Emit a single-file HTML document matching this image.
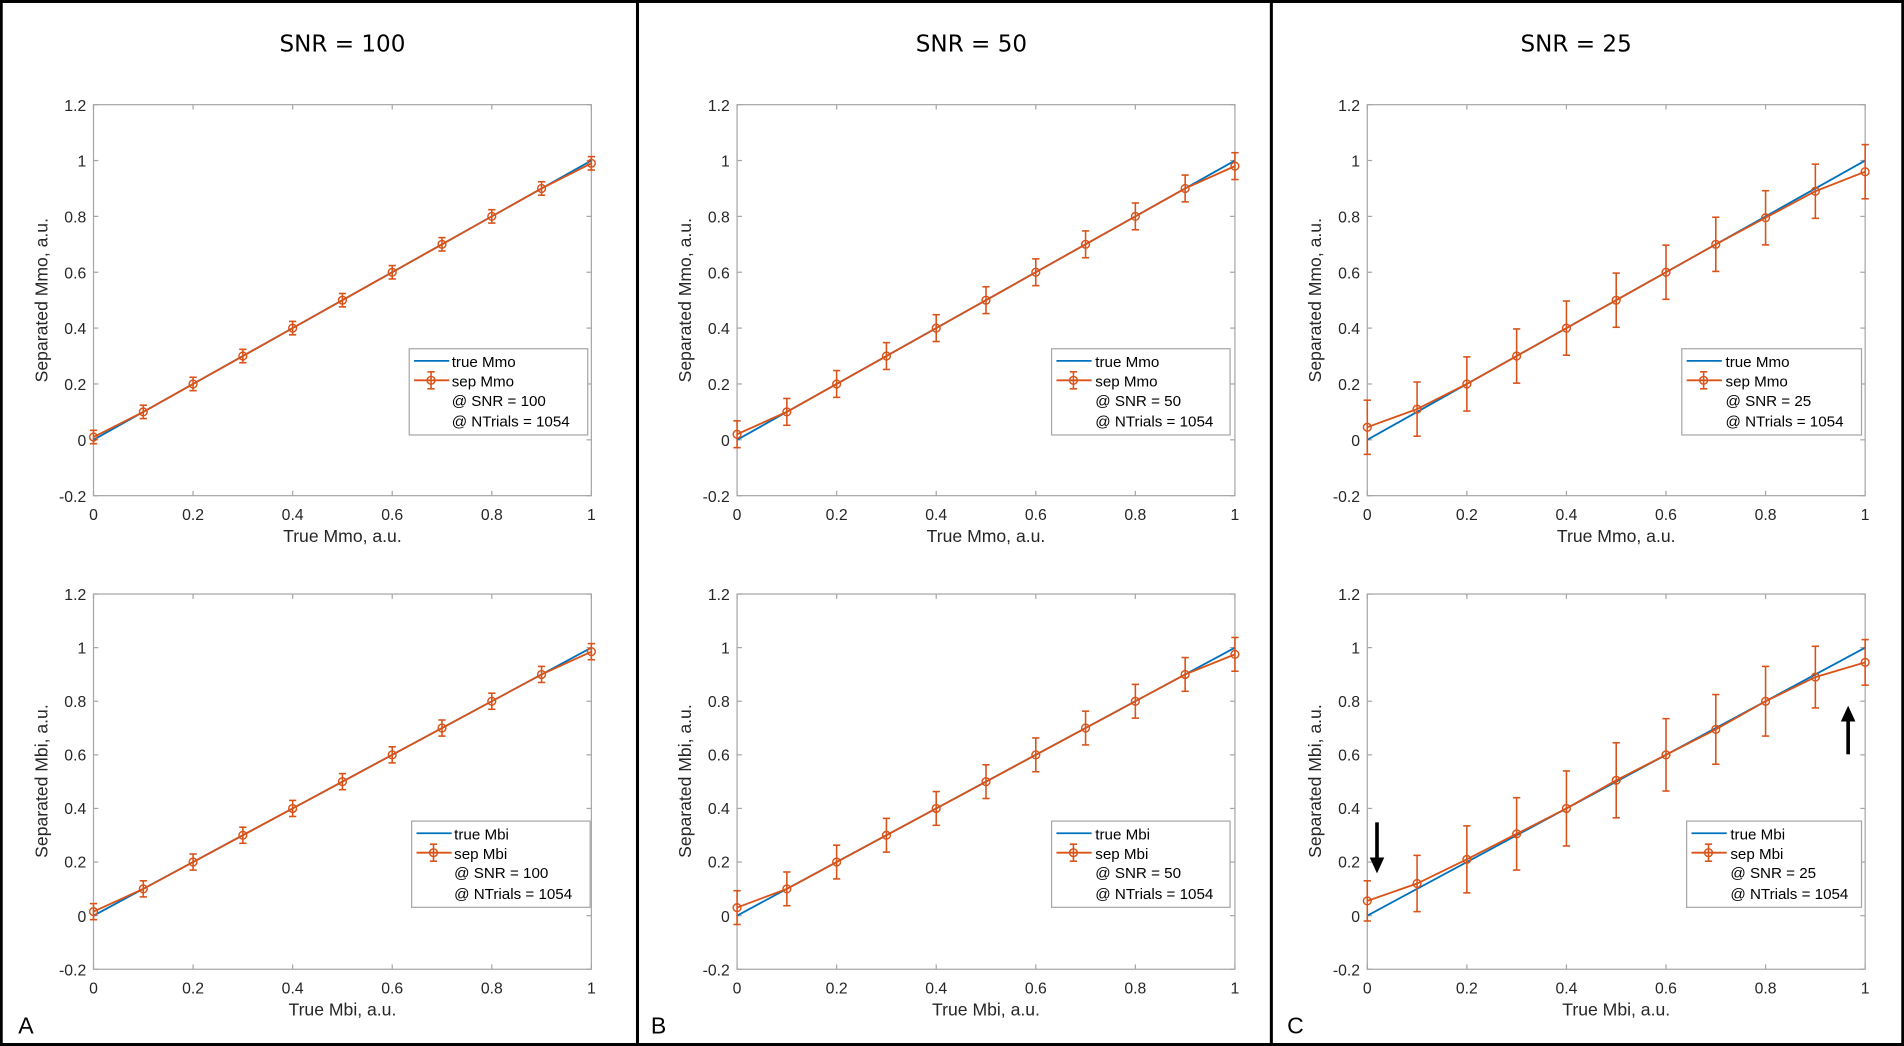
<!DOCTYPE html>
<html><head><meta charset="utf-8">
<style>
html,body{margin:0;padding:0;background:#fff;}
svg{display:block;}
text{font-family:"Liberation Sans",sans-serif;fill:#262626;}
.yl{font-size:13px;text-anchor:end;}
.xl{font-size:13px;text-anchor:middle;}
.lab{font-size:14.5px;text-anchor:middle;}
.title{font-family:"DejaVu Sans","Liberation Sans",sans-serif;font-size:19px;fill:#000;text-anchor:middle;}
.lg{font-size:12.5px;fill:#000;}
.let{font-size:19px;fill:#000;}
</style></head>
<body>
<svg id="s" width="1904" height="1046" viewBox="0 0 1568 861" xmlns="http://www.w3.org/2000/svg">
<rect x="0" y="0" width="1568" height="861" fill="#fff"/>
<g id="g"></g>
<rect x="1" y="1" width="1566" height="859" fill="none" stroke="#000" stroke-width="2.5"/>
<line x1="525" y1="0" x2="525" y2="861" stroke="#000" stroke-width="2.5"/>
<line x1="1047" y1="0" x2="1047" y2="861" stroke="#000" stroke-width="2.5"/>

<text class="title" x="282" y="42">SNR = 100</text>
<text class="title" x="800" y="42">SNR = 50</text>
<text class="title" x="1298" y="42">SNR = 25</text>

<text class="let" x="15" y="851">A</text>
<text class="let" x="536" y="851">B</text>
<text class="let" x="1060" y="851">C</text>

<!-- Panel A -->
<g transform="translate(77,0)">
<text class="yl" x="-6" y="91">1.2</text><text class="yl" x="-6" y="137">1</text><text class="yl" x="-6" y="183">0.8</text><text class="yl" x="-6" y="229">0.6</text><text class="yl" x="-6" y="275">0.4</text><text class="yl" x="-6" y="321">0.2</text><text class="yl" x="-6" y="367">0</text><text class="yl" x="-6" y="413">-0.2</text>
<text class="xl" x="0" y="428">0</text><text class="xl" x="82" y="428">0.2</text><text class="xl" x="164" y="428">0.4</text><text class="xl" x="246" y="428">0.6</text><text class="xl" x="328" y="428">0.8</text><text class="xl" x="410" y="428">1</text>
<text class="lab" x="205" y="446">True Mmo, a.u.</text>
<text class="lab" transform="translate(-38,247) rotate(-90)">Separated Mmo, a.u.</text>
<text class="yl" x="-6" y="494">1.2</text><text class="yl" x="-6" y="538">1</text><text class="yl" x="-6" y="582">0.8</text><text class="yl" x="-6" y="626">0.6</text><text class="yl" x="-6" y="670">0.4</text><text class="yl" x="-6" y="714">0.2</text><text class="yl" x="-6" y="759">0</text><text class="yl" x="-6" y="803">-0.2</text>
<text class="xl" x="0" y="818">0</text><text class="xl" x="82" y="818">0.2</text><text class="xl" x="164" y="818">0.4</text><text class="xl" x="246" y="818">0.6</text><text class="xl" x="328" y="818">0.8</text><text class="xl" x="410" y="818">1</text>
<text class="lab" x="205" y="836">True Mbi, a.u.</text>
<text class="lab" transform="translate(-38,643) rotate(-90)">Separated Mbi, a.u.</text>
</g>
<!-- Panel B -->
<g transform="translate(607,0)">
<text class="yl" x="-6" y="91">1.2</text><text class="yl" x="-6" y="137">1</text><text class="yl" x="-6" y="183">0.8</text><text class="yl" x="-6" y="229">0.6</text><text class="yl" x="-6" y="275">0.4</text><text class="yl" x="-6" y="321">0.2</text><text class="yl" x="-6" y="367">0</text><text class="yl" x="-6" y="413">-0.2</text>
<text class="xl" x="0" y="428">0</text><text class="xl" x="82" y="428">0.2</text><text class="xl" x="164" y="428">0.4</text><text class="xl" x="246" y="428">0.6</text><text class="xl" x="328" y="428">0.8</text><text class="xl" x="410" y="428">1</text>
<text class="lab" x="205" y="446">True Mmo, a.u.</text>
<text class="lab" transform="translate(-38,247) rotate(-90)">Separated Mmo, a.u.</text>
<text class="yl" x="-6" y="494">1.2</text><text class="yl" x="-6" y="538">1</text><text class="yl" x="-6" y="582">0.8</text><text class="yl" x="-6" y="626">0.6</text><text class="yl" x="-6" y="670">0.4</text><text class="yl" x="-6" y="714">0.2</text><text class="yl" x="-6" y="759">0</text><text class="yl" x="-6" y="803">-0.2</text>
<text class="xl" x="0" y="818">0</text><text class="xl" x="82" y="818">0.2</text><text class="xl" x="164" y="818">0.4</text><text class="xl" x="246" y="818">0.6</text><text class="xl" x="328" y="818">0.8</text><text class="xl" x="410" y="818">1</text>
<text class="lab" x="205" y="836">True Mbi, a.u.</text>
<text class="lab" transform="translate(-38,643) rotate(-90)">Separated Mbi, a.u.</text>
</g>
<!-- Panel C -->
<g transform="translate(1126,0)">
<text class="yl" x="-6" y="91">1.2</text><text class="yl" x="-6" y="137">1</text><text class="yl" x="-6" y="183">0.8</text><text class="yl" x="-6" y="229">0.6</text><text class="yl" x="-6" y="275">0.4</text><text class="yl" x="-6" y="321">0.2</text><text class="yl" x="-6" y="367">0</text><text class="yl" x="-6" y="413">-0.2</text>
<text class="xl" x="0" y="428">0</text><text class="xl" x="82" y="428">0.2</text><text class="xl" x="164" y="428">0.4</text><text class="xl" x="246" y="428">0.6</text><text class="xl" x="328" y="428">0.8</text><text class="xl" x="410" y="428">1</text>
<text class="lab" x="205" y="446">True Mmo, a.u.</text>
<text class="lab" transform="translate(-38,247) rotate(-90)">Separated Mmo, a.u.</text>
<text class="yl" x="-6" y="494">1.2</text><text class="yl" x="-6" y="538">1</text><text class="yl" x="-6" y="582">0.8</text><text class="yl" x="-6" y="626">0.6</text><text class="yl" x="-6" y="670">0.4</text><text class="yl" x="-6" y="714">0.2</text><text class="yl" x="-6" y="759">0</text><text class="yl" x="-6" y="803">-0.2</text>
<text class="xl" x="0" y="818">0</text><text class="xl" x="82" y="818">0.2</text><text class="xl" x="164" y="818">0.4</text><text class="xl" x="246" y="818">0.6</text><text class="xl" x="328" y="818">0.8</text><text class="xl" x="410" y="818">1</text>
<text class="lab" x="205" y="836">True Mbi, a.u.</text>
<text class="lab" transform="translate(-38,643) rotate(-90)">Separated Mbi, a.u.</text>
</g>

<g id="legs"></g>
<text class="lg" x="372" y="302">true Mmo</text><text class="lg" x="372" y="318">sep Mmo</text><text class="lg" x="372" y="334">@ SNR = 100</text><text class="lg" x="372" y="351">@ NTrials = 1054</text>
<text class="lg" x="374" y="691">true Mbi</text><text class="lg" x="374" y="707">sep Mbi</text><text class="lg" x="374" y="723">@ SNR = 100</text><text class="lg" x="374" y="740">@ NTrials = 1054</text>
<text class="lg" x="902" y="302">true Mmo</text><text class="lg" x="902" y="318">sep Mmo</text><text class="lg" x="902" y="334">@ SNR = 50</text><text class="lg" x="902" y="351">@ NTrials = 1054</text>
<text class="lg" x="902" y="691">true Mbi</text><text class="lg" x="902" y="707">sep Mbi</text><text class="lg" x="902" y="723">@ SNR = 50</text><text class="lg" x="902" y="740">@ NTrials = 1054</text>
<text class="lg" x="1421" y="302">true Mmo</text><text class="lg" x="1421" y="318">sep Mmo</text><text class="lg" x="1421" y="334">@ SNR = 25</text><text class="lg" x="1421" y="351">@ NTrials = 1054</text>
<text class="lg" x="1425" y="691">true Mbi</text><text class="lg" x="1425" y="707">sep Mbi</text><text class="lg" x="1425" y="723">@ SNR = 25</text><text class="lg" x="1425" y="740">@ NTrials = 1054</text>

<line x1="1134" y1="677" x2="1134" y2="708" stroke="#000" stroke-width="3"/>
<polygon points="1128,706 1140,706 1134,719" fill="#000"/>
<line x1="1522" y1="621" x2="1522" y2="592" stroke="#000" stroke-width="3"/>
<polygon points="1516,594 1528,594 1522,581" fill="#000"/>
</svg>
<script>
(function(){
var NS="http://www.w3.org/2000/svg",g=document.getElementById('g'),lg=document.getElementById('legs');
function el(p,t,a){var e=document.createElementNS(NS,t);for(var k in a)e.setAttribute(k,a[k]);p.appendChild(e);return e;}
var blue="#0072BD",red="#D95319";
function plot(L,T,H,vals,err){
  var W=410,R=L+W,B=T+H;
  function X(v){return L+v*W;} function Y(v){return B-(v+0.2)/1.4*H;}
  el(g,'rect',{x:L,y:T,width:W,height:H,fill:'#fff',stroke:'#a6a6a6','stroke-width':1});
  for(var i=0;i<=5;i++){var x=L+i*W/5;el(g,'line',{x1:x,y1:B,x2:x,y2:B-4,stroke:'#a6a6a6'});el(g,'line',{x1:x,y1:T,x2:x,y2:T+4,stroke:'#a6a6a6'});}
  for(var j=0;j<=7;j++){var y=T+j*H/7;el(g,'line',{x1:L,y1:y,x2:L+4,y2:y,stroke:'#a6a6a6'});el(g,'line',{x1:R,y1:y,x2:R-4,y2:y,stroke:'#a6a6a6'});}
  el(g,'line',{x1:X(0),y1:Y(0),x2:X(1),y2:Y(1),stroke:blue,'stroke-width':1.5});
  var pts=[];
  for(var k=0;k<11;k++){pts.push(X(k/10).toFixed(1)+','+Y(vals[k]).toFixed(1));}
  el(g,'polyline',{points:pts.join(' '),fill:'none',stroke:red,'stroke-width':1.5});
  for(var k=0;k<11;k++){var x=X(k/10),y=Y(vals[k]),e=err[k]/1.4*H;
    el(g,'line',{x1:x,y1:y-e,x2:x,y2:y+e,stroke:red,'stroke-width':1.3});
    el(g,'line',{x1:x-3,y1:y-e,x2:x+3,y2:y-e,stroke:red,'stroke-width':1.3});
    el(g,'line',{x1:x-3,y1:y+e,x2:x+3,y2:y+e,stroke:red,'stroke-width':1.3});
    el(g,'circle',{cx:x,cy:y,r:3.2,fill:'none',stroke:red,'stroke-width':1.2});}
}
function lin(a,b,mid){var v=[a];for(var i=1;i<10;i++)v.push(mid?mid[i-1]:i/10);v.push(b);return v;}
function c(v){var a=[];for(var i=0;i<11;i++)a.push(v);return a;}
plot(77,86,322,lin(0.01,0.99),c(0.024));
plot(77,489,309,lin(0.015,0.985),c(0.03));
plot(607,86,322,lin(0.02,0.98),c(0.048));
plot(607,489,309,lin(0.03,0.975),c(0.063));
plot(1126,86,322,lin(0.045,0.96,[0.11,0.2,0.3,0.4,0.5,0.6,0.7,0.795,0.89]),c(0.097));
plot(1126,489,309,lin(0.055,0.945,[0.12,0.21,0.305,0.4,0.505,0.6,0.695,0.8,0.89]),[0.075,0.105,0.125,0.135,0.14,0.14,0.135,0.13,0.13,0.115,0.085]);
function leg(x,y,w){el(lg,'rect',{x:x,y:y,width:w,height:71,fill:'#fff',stroke:'#a6a6a6'});
  el(lg,'line',{x1:x+4,y1:y+10,x2:x+33,y2:y+10,stroke:blue,'stroke-width':1.5});
  var cx=x+18,cy=y+26;el(lg,'line',{x1:x+4,y1:cy,x2:x+33,y2:cy,stroke:red,'stroke-width':1.5});
  el(lg,'line',{x1:cx,y1:cy-7,x2:cx,y2:cy+7,stroke:red,'stroke-width':1.3});
  el(lg,'line',{x1:cx-3,y1:cy-7,x2:cx+3,y2:cy-7,stroke:red,'stroke-width':1.3});
  el(lg,'line',{x1:cx-3,y1:cy+7,x2:cx+3,y2:cy+7,stroke:red,'stroke-width':1.3});
  el(lg,'circle',{cx:cx,cy:cy,r:3.2,fill:'none',stroke:red,'stroke-width':1.2});}
leg(337,287,147);leg(339,676,147);leg(866,287,147);leg(866,676,147);leg(1385,287,148);leg(1389,676,144);
var s=document.getElementById('s');s.appendChild(lg);
var ts=s.querySelectorAll('text.lg');for(var i=0;i<ts.length;i++)s.appendChild(ts[i]);
})();
</script>
</body></html>
